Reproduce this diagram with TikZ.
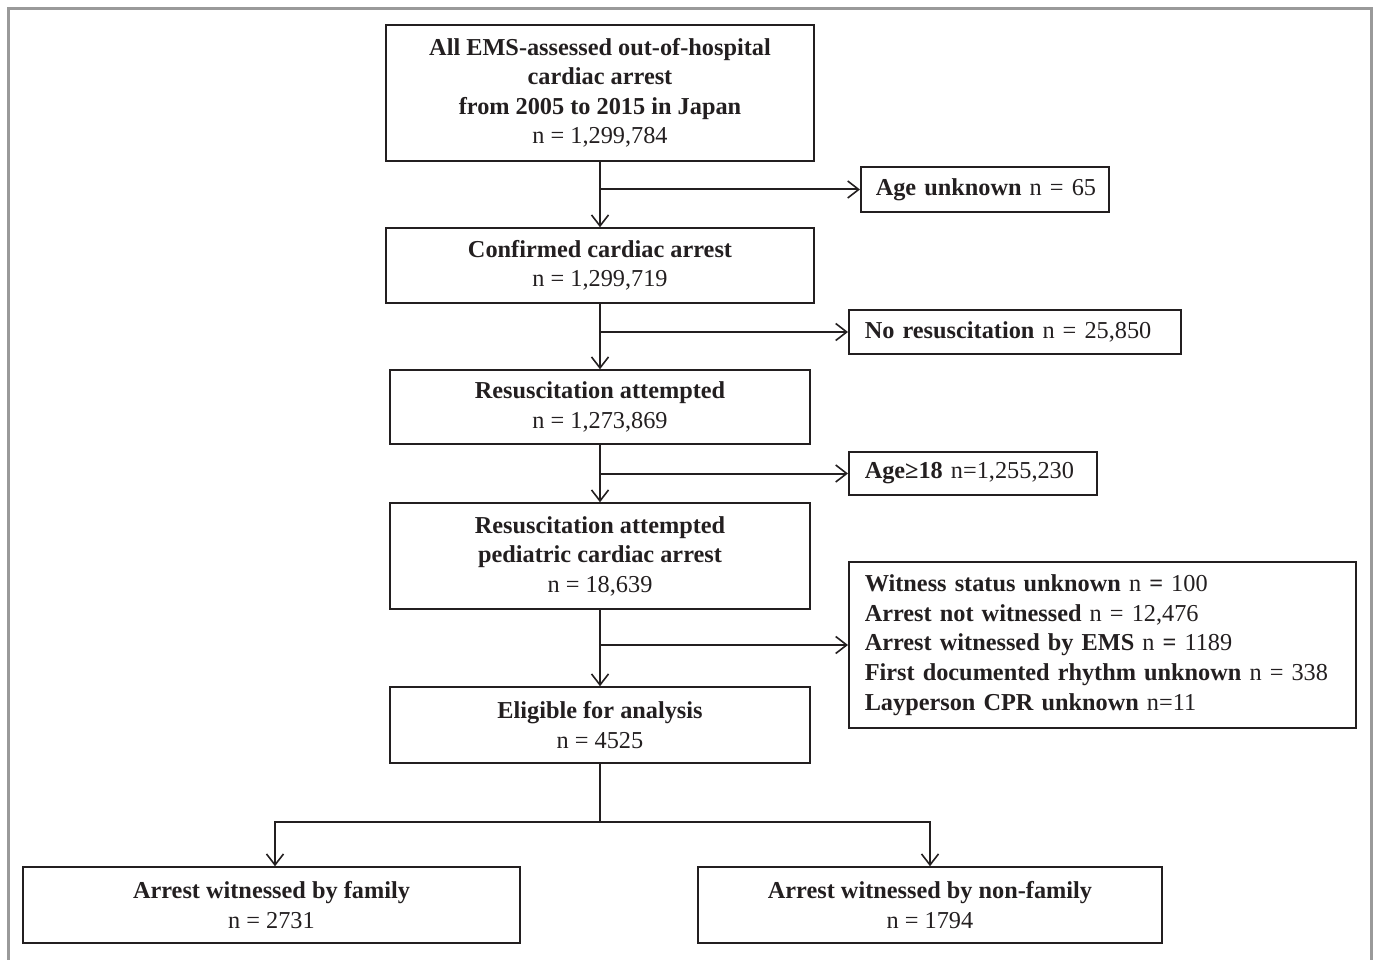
\documentclass[tikz,border=0pt]{standalone}
\usepackage{fontspec}
\setmainfont{Liberation Serif}
\usetikzlibrary{arrows.meta}
\definecolor{ink}{HTML}{231F20}
\definecolor{frame}{HTML}{9A9A9A}
\tikzset{
  box/.style={draw=ink, line width=1.5pt, text=ink, align=center, inner sep=0pt,
    font=\fontsize{24.3}{29.5}\selectfont},
  sidebox/.style={draw=ink, line width=1.5pt, text=ink, align=left, inner xsep=16pt, inner ysep=0pt,
    font=\fontsize{24.3}{29.6}\selectfont, anchor=west},
  conn/.style={draw=ink, line width=2pt},
  arr/.style={conn, -{Straight Barb[length=11pt,width=17pt,line width=1.6pt]}}
}
\begin{document}
\begin{tikzpicture}[x=1pt,y=-1pt]
\useasboundingbox (0,0) rectangle (1375,960);
\begin{scope}
\clip (0,0) rectangle (1375,960);
\draw[frame, line width=3pt] (8.5,975) -- (8.5,8.5) -- (1371.5,8.5) -- (1371.5,975);
\end{scope}

\node[box, minimum width=428pt, minimum height=136pt] (b1) at (600,93)
  {\textbf{All EMS-assessed out-of-hospital}\\ \textbf{cardiac arrest}\\ \textbf{from 2005 to 2015 in Japan}\\ n = 1,299,784};
\node[box, minimum width=428pt, minimum height=75pt] (b2) at (600,265.5)
  {\textbf{Confirmed cardiac arrest}\\ n = 1,299,719};
\node[box, minimum width=420pt, minimum height=74pt] (b3) at (600,407)
  {\textbf{Resuscitation attempted}\\ n = 1,273,869};
\node[box, minimum width=420pt, minimum height=106pt] (b4) at (600,556)
  {\textbf{Resuscitation attempted}\\ \textbf{pediatric cardiac arrest}\\ n = 18,639};
\node[box, minimum width=420pt, minimum height=76pt] (b5) at (600,725)
  {\textbf{Eligible for analysis}\\ n = 4525};
\node[box, minimum width=497pt, minimum height=76pt] (b6) at (271.5,905)
  {\textbf{Arrest witnessed by family}\\ n = 2731};
\node[box, minimum width=464pt, minimum height=76pt] (b7) at (930,905)
  {\textbf{Arrest witnessed by non-family}\\ n = 1794};

\node[sidebox, inner xsep=15pt, text width=218pt, minimum height=45pt] (s1) at (860,189.5)
  {\mbox{\textbf{Age unknown} n = 65}};
\node[sidebox, text width=300pt, minimum height=44pt] (s2) at (848,332)
  {\mbox{\textbf{No resuscitation} n = 25,850}};
\node[sidebox, text width=216pt, minimum height=43pt] (s3) at (848,473.5)
  {\mbox{\textbf{Age≥18} n=1,255,230}};
\node[sidebox, text width=475pt, minimum height=166pt] (s4) at (848,645)
  {\textbf{Witness status unknown} n \textbf{=} 100\\
   \textbf{Arrest not witnessed} n = 12,476\\
   \textbf{Arrest witnessed by EMS} n \textbf{=} 1189\\
   \textbf{First documented rhythm unknown} n = 338\\
   \textbf{Layperson CPR unknown} n=11};

\draw[arr] (b1.south) -- (b2.north);
\draw[arr] (b2.south) -- (b3.north);
\draw[arr] (b3.south) -- (b4.north);
\draw[arr] (b4.south) -- (b5.north);
\draw[arr] (b1.south |- s1.west) -- (s1.west);
\draw[arr] (b2.south |- s2.west) -- (s2.west);
\draw[arr] (b3.south |- s3.west) -- (s3.west);
\draw[arr] (b4.south |- s4.west) -- (s4.west);

\coordinate (split) at (600,822);
\draw[conn] (b5.south) -- (split);
\draw[arr] (split) -| ([xshift=3.5pt]b6.north);
\draw[arr] (split) -| (b7.north);
\end{tikzpicture}
\end{document}
